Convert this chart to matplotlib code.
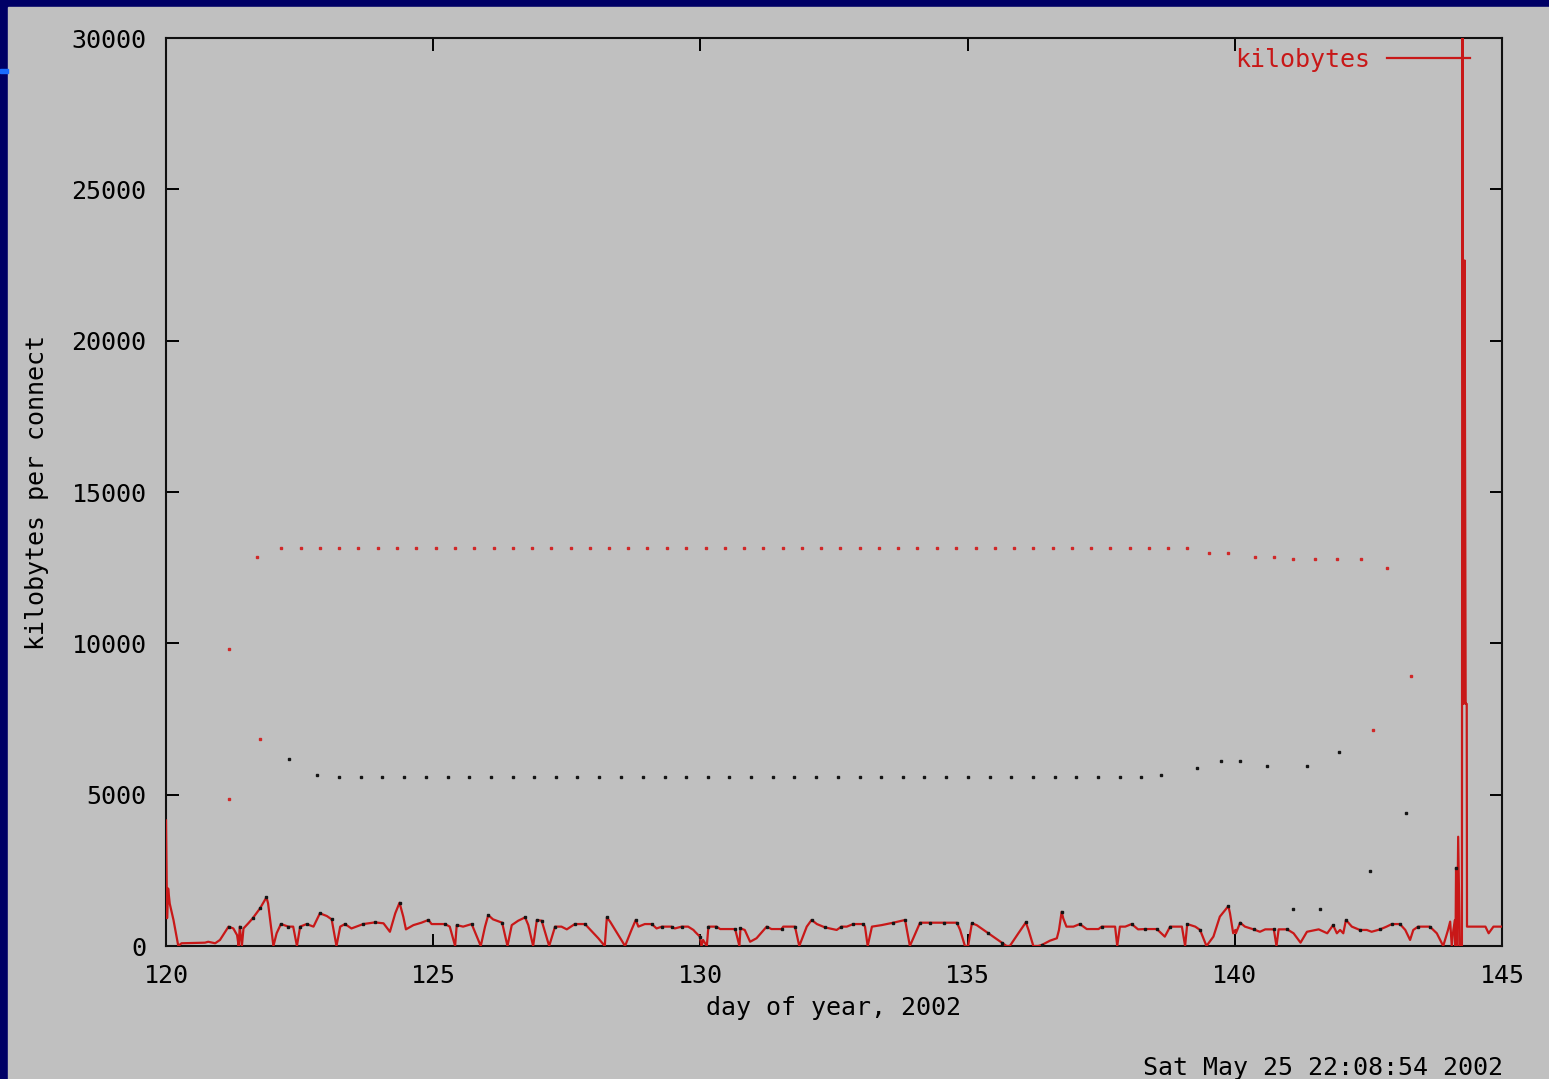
import matplotlib.pyplot as plt
from matplotlib.patches import Rectangle

# kilobytes per connect
line_days = [
    120.00, 120.02, 120.04, 120.07, 120.14, 120.23, 120.29, 120.73, 120.79, 120.92,
    121.01, 121.17, 121.26, 121.33, 121.36, 121.38, 121.42, 121.45, 121.54, 121.62,
    121.76, 121.88, 121.91, 122.01, 122.07, 122.15, 122.29, 122.38, 122.45, 122.51,
    122.63, 122.76, 122.88, 123.01, 123.10, 123.19, 123.26, 123.35, 123.47, 123.69,
    123.91, 124.07, 124.19, 124.29, 124.37, 124.44, 124.49, 124.63, 124.78, 124.91,
    124.97, 125.22, 125.31, 125.41, 125.44, 125.56, 125.72, 125.89, 125.97, 126.03,
    126.12, 126.29, 126.39, 126.47, 126.59, 126.72, 126.78, 126.87, 126.94, 127.03,
    127.17, 127.28, 127.40, 127.50, 127.65, 127.84, 128.09, 128.21, 128.25, 128.31,
    128.59, 128.71, 128.79, 128.84, 128.96, 129.09, 129.18, 129.28, 129.46, 129.52,
    129.65, 129.77, 129.87, 129.90, 129.99, 130.02, 130.05, 130.12, 130.15, 130.30,
    130.37, 130.65, 130.73, 130.75, 130.83, 130.93, 131.05, 131.24, 131.33, 131.52,
    131.55, 131.77, 131.85, 131.93, 131.99, 132.08, 132.18, 132.33, 132.55, 132.64,
    132.74, 132.86, 133.05, 133.08, 133.13, 133.21, 133.39, 133.61, 133.83, 133.92,
    134.05, 134.11, 134.30, 134.55, 134.80, 134.86, 134.95, 135.01, 135.08, 135.17,
    135.39, 135.64, 135.73, 135.79, 135.95, 136.09, 136.14, 136.23, 136.32, 136.39,
    136.54, 136.67, 136.71, 136.76, 136.79, 136.85, 136.98, 137.10, 137.23, 137.45,
    137.51, 137.76, 137.80, 137.85, 137.95, 138.07, 138.19, 138.32, 138.54, 138.69,
    138.79, 139.01, 139.07, 139.11, 139.26, 139.35, 139.47, 139.60, 139.72, 139.82,
    139.88, 139.91, 139.97, 140.01, 140.02, 140.10, 140.19, 140.35, 140.47, 140.57,
    140.73, 140.78, 140.82, 140.98, 141.10, 141.23, 141.35, 141.57, 141.73, 141.84,
    141.91, 141.97, 142.03, 142.08, 142.19, 142.34, 142.47, 142.56, 142.72, 142.84,
    142.94, 143.09, 143.19, 143.28, 143.34, 143.43, 143.65, 143.78, 143.90, 143.99,
    144.03, 144.06, 144.09, 144.12, 144.13, 144.14, 144.16, 144.18, 144.21, 144.25,
    144.26, 144.28, 144.30, 144.32, 144.34, 144.345, 144.69, 144.75, 144.84, 145.00,
]
line_kb = [
    4150, 920, 1900, 1400, 860, 0, 90, 110, 140, 90,
    200, 640, 580, 360, 0, 640, 0, 580, 750, 910,
    1245, 1610, 1410, 0, 420, 725, 640, 640, 0, 640,
    725, 640, 1080, 990, 880, 0, 640, 725, 580, 725,
    780, 750, 470, 1080, 1430, 970, 550, 690, 770, 860,
    725, 725, 640, 0, 690, 640, 725, 0, 640, 1020,
    880, 770, 0, 690, 835, 945, 690, 0, 860, 835,
    0, 640, 640, 550, 725, 725, 255, 0, 945, 805,
    0, 530, 860, 640, 725, 725, 580, 640, 640, 580,
    640, 640, 530, 470, 310, 0, 200, 0, 640, 640,
    560, 560, 0, 580, 530, 140, 255, 640, 560, 560,
    640, 640, 0, 360, 640, 860, 725, 615, 530, 640,
    640, 725, 725, 640, 0, 640, 690, 770, 860, 0,
    530, 770, 770, 770, 770, 530, 0, 0, 750, 690,
    420, 110, 0, 0, 420, 780, 530, 0, 0, 35,
    175, 255, 530, 1130, 910, 640, 640, 725, 560, 560,
    640, 640, 0, 640, 640, 725, 550, 560, 560, 310,
    640, 640, 0, 725, 640, 530, 0, 310, 970, 1190,
    1320, 1080, 420, 530, 420, 770, 640, 550, 470, 550,
    550, 0, 550, 550, 420, 110, 470, 550, 420, 690,
    420, 530, 420, 860, 640, 530, 530, 470, 550, 640,
    725, 725, 530, 200, 530, 640, 640, 420, 0, 530,
    805, 0, 530, 860, 0, 2580, 0, 3610, 0, 0,
    33000, 8000, 22650, 8000, 8000, 640, 640, 420, 640, 640,
]

# black points sitting on the line vertices
vertex_days = [
    121.17, 121.38, 121.62, 121.76, 121.88, 122.15, 122.29, 122.51, 122.63, 122.88,
    123.10, 123.35, 123.69, 123.91, 124.37, 124.91, 125.22, 125.44, 125.72, 126.03,
    126.29, 126.72, 126.94, 127.03, 127.28, 127.65, 127.84, 128.25, 128.79, 129.09,
    129.28, 129.46, 129.65, 129.99, 130.15, 130.30, 130.65, 130.75, 131.24, 131.52,
    131.77, 132.08, 132.33, 132.64, 132.86, 133.05, 133.61, 133.83, 134.11, 134.30,
    134.55, 134.80, 135.08, 135.39, 135.64, 136.09, 136.39, 136.76, 137.10, 137.51,
    138.07, 138.32, 138.54, 138.79, 139.11, 139.35, 139.88, 140.10, 140.35, 140.73,
    140.98, 141.84, 142.08, 142.34, 142.72, 142.94, 143.09, 143.43, 143.65, 144.14,
]
vertex_kb = [
    640, 640, 910, 1245, 1610, 725, 640, 640, 725, 1080,
    880, 725, 725, 780, 1430, 860, 725, 690, 725, 1020,
    770, 945, 860, 835, 640, 725, 725, 945, 860, 725,
    640, 640, 640, 310, 640, 640, 560, 580, 640, 560,
    640, 860, 615, 640, 725, 725, 770, 860, 770, 770,
    770, 770, 750, 420, 110, 780, 35, 1130, 725, 640,
    725, 560, 560, 640, 725, 530, 1320, 770, 550, 550,
    550, 690, 860, 530, 550, 725, 725, 640, 640, 2580,
]

# scattered red points (upper band)
red_days = [
    121.17, 121.17, 121.70, 121.75,
    122.16, 122.52, 122.88, 123.24, 123.60, 123.96, 124.32, 124.68, 125.05, 125.41,
    125.77, 126.13, 126.49, 126.85, 127.21, 127.57, 127.93, 128.29, 128.65, 129.01,
    129.37, 129.73, 130.10, 130.46, 130.82, 131.18, 131.54, 131.90, 132.26, 132.62,
    132.98, 133.34, 133.70, 134.06, 134.42, 134.79, 135.15, 135.51, 135.87, 136.23,
    136.59, 136.95, 137.31, 137.67, 138.03, 138.39, 138.75, 139.11,
    139.52, 139.88, 140.37, 140.73, 141.09, 141.50, 141.91, 142.36, 142.85, 143.30,
    142.58,
]
red_kb = [
    9810, 4850, 12850, 6850,
    13150, 13150, 13150, 13150, 13150, 13150, 13150, 13150, 13150, 13150,
    13150, 13150, 13150, 13150, 13150, 13150, 13150, 13150, 13150, 13150,
    13150, 13150, 13150, 13150, 13150, 13150, 13150, 13150, 13150, 13150,
    13150, 13150, 13150, 13150, 13150, 13150, 13150, 13150, 13150, 13150,
    13150, 13150, 13150, 13150, 13150, 13150, 13150, 13150,
    13000, 13000, 12840, 12840, 12780, 12780, 12780, 12780, 12480, 8920,
    7150,
]

# scattered black points (lower band)
black_days = [
    122.30, 122.83,
    123.24, 123.64, 124.05, 124.46, 124.86, 125.27, 125.67, 126.08, 126.49, 126.89,
    127.30, 127.70, 128.11, 128.51, 128.92, 129.33, 129.73, 130.14, 130.54, 130.95,
    131.35, 131.76, 132.17, 132.57, 132.98, 133.38, 133.79, 134.19, 134.60, 135.01,
    135.41, 135.82, 136.22, 136.63, 137.03, 137.44, 137.85, 138.25,
    138.61, 139.29, 139.74, 140.10, 140.60, 141.36, 141.95, 143.21, 142.53, 141.09,
    141.59,
]
black_kb = [
    6190, 5660,
    5590, 5590, 5590, 5590, 5590, 5590, 5590, 5590, 5590, 5590,
    5590, 5590, 5590, 5590, 5590, 5590, 5590, 5590, 5590, 5590,
    5590, 5590, 5590, 5590, 5590, 5590, 5590, 5590, 5590, 5590,
    5590, 5590, 5590, 5590, 5590, 5590, 5590, 5590,
    5660, 5890, 6110, 6110, 5960, 5960, 6410, 4400, 2490, 1220,
    1220,
]

x_ticks = [120, 125, 130, 135, 140, 145]
y_ticks = [0, 5000, 10000, 15000, 20000, 25000, 30000]

NAVY = "#000066"
GRAY = "#c0c0c0"
RED = "#c81818"
FONT = "DejaVu Sans Mono"
FS = 18

plt.rcParams["font.family"] = FONT

fig = plt.figure(figsize=(15.49, 10.79), dpi=100, facecolor=NAVY)
# gray slide panel and the little blue bar on the left edge
fig.patches.append(Rectangle((8 / 1549, 0), 1, 1 - 7 / 1079,
                             transform=fig.transFigure, color=GRAY, zorder=-10))
fig.patches.append(Rectangle((0, 1 - 73 / 1079), 8 / 1549, 4 / 1079,
                             transform=fig.transFigure, color="#1a6cff", zorder=-10))

ax = fig.add_axes([166 / 1549, 1 - 946 / 1079, (1502 - 166) / 1549, (946 - 38) / 1079])
ax.set_zorder(1)
ax.set_facecolor(GRAY)

ax.plot(line_days, line_kb, color=RED, lw=1.6, label="kilobytes", zorder=3)
ax.plot(vertex_days, vertex_kb, ls="none", marker="s", ms=1.5, color="#151515", zorder=4)
ax.plot(red_days, red_kb, ls="none", marker="s", ms=1.8, color="#d02828", zorder=2)
ax.plot(black_days, black_kb, ls="none", marker="s", ms=1.8, color="#151515", zorder=2)

ax.set_xlim(120, 145)
ax.set_ylim(0, 30000)
ax.set_xticks(x_ticks)
ax.set_yticks(y_ticks)
ax.tick_params(direction="in", length=9, width=1.4, top=True, right=True,
               labelsize=FS, colors="black", pad=14)
ax.tick_params(axis="x", pad=13)
for s in ax.spines.values():
    s.set_linewidth(1.5)
    s.set_color("#101010")

ax.set_xlabel("day of year, 2002", fontsize=FS, labelpad=6)
ax.set_ylabel("kilobytes per connect", fontsize=FS, labelpad=16)

leg = ax.legend(loc="center right", bbox_to_anchor=(0.976, 0.976), frameon=False,
                markerfirst=False, fontsize=FS, handlelength=3.3, handletextpad=0.7,
                borderpad=0, borderaxespad=0, labelcolor=RED)

fig.text(1143 / 1549, 1 - 1068 / 1079, "Sat May 25 22:08:54 2002", fontsize=FS,
         ha="left", va="center", color="black")

fig.savefig("out.png", dpi=100, facecolor=NAVY)
